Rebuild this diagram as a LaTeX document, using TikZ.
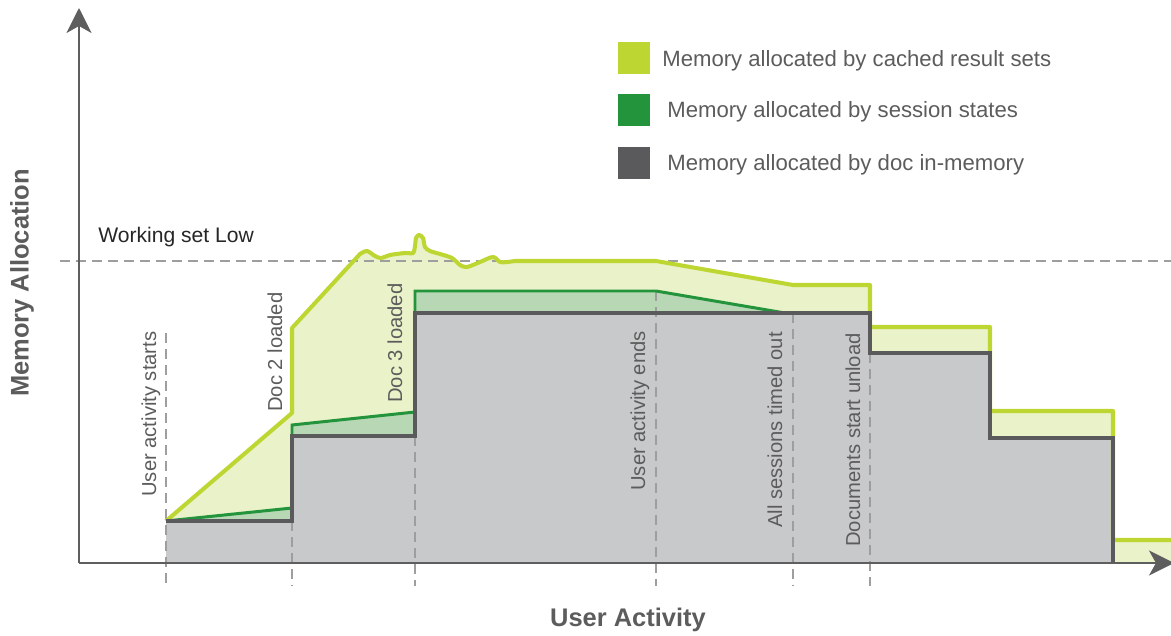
\documentclass[tikz,border=0pt]{standalone}
\usepackage{fontspec}
\setmainfont{Liberation Sans}
\usetikzlibrary{arrows.meta, positioning}

\definecolor{cachedline}{HTML}{BED631}
\definecolor{cachedfill}{HTML}{E9F2C8}
\definecolor{sessline}{HTML}{23943B}
\definecolor{sessfill}{HTML}{B7D7B5}
\definecolor{docline}{HTML}{5A5A5C}
\definecolor{docfill}{HTML}{C8C9CB}
\definecolor{axisgray}{HTML}{5E5E5E}
\definecolor{dashgray}{HTML}{9E9E9E}
\definecolor{labelgray}{HTML}{5C5C5C}

\begin{document}
\begin{tikzpicture}[x=0.02cm, y=-0.02cm,
    axis/.style={draw=axisgray, line width=1.1pt, -{Stealth[length=0.5cm, width=0.5cm, inset=0.14cm]}},
    eventline/.style={draw=dashgray, dash pattern=on 0.2cm off 0.12cm, line width=0.7pt},
    eventlabel/.style={rotate=90, anchor=base west, inner sep=0pt, text=labelgray, font=\fontsize{11.5}{13}\selectfont},
    legbox/.style={minimum size=0.64cm, inner sep=0pt},
    legtext/.style={anchor=base west, inner sep=0pt, text=labelgray, font=\fontsize{12.6}{15}\selectfont},
    axislabel/.style={text=labelgray, font=\fontsize{14.5}{17}\selectfont\bfseries},
]
  \useasboundingbox (0,0) rectangle (1171,636);

  % Fills: cached result sets, session states, doc in-memory
  \fill[cachedfill] (166,563) -- (166,521) -- (292,413) -- (292,328) -- (360,254)
    -- plot[smooth, tension=0.5] coordinates {(360,254) (367,251) (375,256) (381,258) (390,255) (405,253) (413,253)
       (415,246) (416,238) (419,235) (423,238) (425,247) (430,251) (440,254) (452,258) (460,265) (467,267)
       (480,262) (493,257) (500,262) (507,262) (515,261)}
    -- (656,261) -- (793,285) -- (870,285) -- (870,327) -- (990,327) -- (990,411) -- (1113,411)
    -- (1113,540) -- (1171,540) -- (1171,563) -- cycle;
  \fill[sessfill] (166,521) -- (292,508) -- (292,425) -- (415,412) -- (415,291) -- (656,291) -- (785,313)
    -- (785,563) -- (166,563) -- cycle;
  \fill[docfill] (166,563) -- (166,521) -- (292,521) -- (292,436) -- (415,436) -- (415,313) -- (870,313)
    -- (870,353) -- (990,353) -- (990,438) -- (1113,438) -- (1113,563) -- cycle;

  % Working set and event markers
  \draw[eventline] (60,261) -- (1171,261);
  \foreach \x/\top in {166/333, 292/521, 415/436, 656/291, 793/313, 870/353}
    \draw[eventline] (\x,\top) -- (\x,586);

  % Outlines
  \draw[cachedline, line width=2.3pt, line join=round] (166,521) -- (292,413) -- (292,328) -- (360,254)
    -- plot[smooth, tension=0.5] coordinates {(360,254) (367,251) (375,256) (381,258) (390,255) (405,253) (413,253)
       (415,246) (416,238) (419,235) (423,238) (425,247) (430,251) (440,254) (452,258) (460,265) (467,267)
       (480,262) (493,257) (500,262) (507,262) (515,261)}
    -- (656,261) -- (793,285) -- (870,285) -- (870,327) -- (990,327) -- (990,411) -- (1113,411)
    -- (1113,540) -- (1171,540);
  \draw[sessline, line width=1.7pt] (166,521) -- (292,508) -- (292,425) -- (415,412) -- (415,291)
    -- (656,291) -- (785,313);
  \draw[docline, line width=1.8pt] (166,521) -- (292,521) -- (292,436) -- (415,436) -- (415,313)
    -- (870,313) -- (870,353) -- (990,353) -- (990,438) -- (1113,438) -- (1113,563);

  % Axes
  \coordinate (origin) at (79,563);
  \draw[axis] (origin) -- (79,8);
  \draw[axis] (origin) -- (1174,563);
  \node[axislabel, rotate=90] (ylabel) at (22,283) {Memory Allocation};
  \node[axislabel] (xlabel) at (628,620) {User Activity};
  \node[anchor=base west, inner sep=0pt, text=black!85, font=\fontsize{12}{14}\selectfont] (wsl) at (98,242) {Working set Low};

  % Event labels
  \node[eventlabel] (start) at (156,497) {User activity starts};
  \node[eventlabel] (doctwo) at (282,412) {Doc 2 loaded};
  \node[eventlabel] (docthree) at (402,403) {Doc 3 loaded};
  \node[eventlabel] (ends) at (645,491) {User activity ends};
  \node[eventlabel] (timeout) at (782,528) {All sessions timed out};
  \node[eventlabel] (unload) at (860,547) {Documents start unload};

  % Legend
  \node[legbox, fill=cachedline] (legcached) at (634,58) {};
  \node[legbox, fill=sessline] (legsess) at (634,110) {};
  \node[legbox, fill=docline] (legdoc) at (634,163) {};
  \node[legtext] (txtcached) at (662,66) {Memory allocated by cached result sets};
  \node[legtext] (txtsess) at (667,117) {Memory allocated by session states};
  \node[legtext] (txtdoc) at (667,170) {Memory allocated by doc in-memory};
\end{tikzpicture}
\end{document}
